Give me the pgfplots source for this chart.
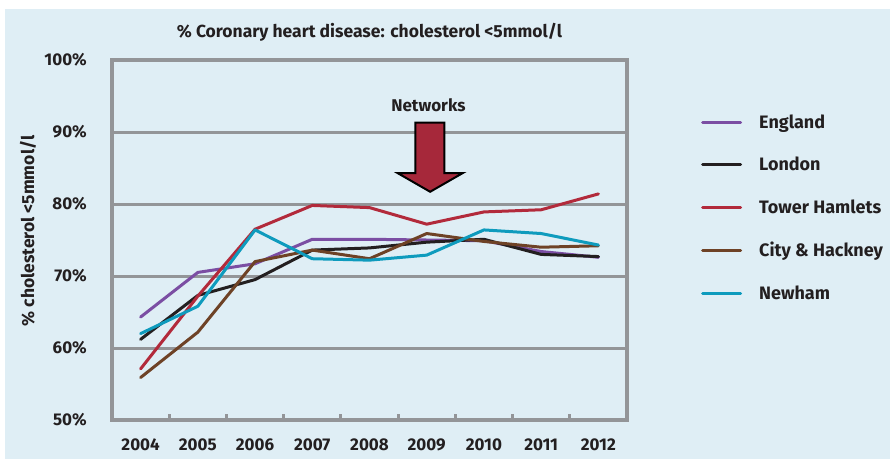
\documentclass[border=0pt]{standalone}
\usepackage{pgfplots}
\pgfplotsset{compat=1.18}
\usepackage{fontspec}
\setmainfont{Fira Sans}
\definecolor{bg}{HTML}{DFEEF5}
\definecolor{gridgray}{HTML}{939598}
\definecolor{txt}{HTML}{231F20}
\definecolor{cEng}{HTML}{7B4EA3}
\definecolor{cLon}{HTML}{231F20}
\definecolor{cTH}{HTML}{B22A3B}
\definecolor{cCH}{HTML}{6E4226}
\definecolor{cNew}{HTML}{0E9BBD}
\definecolor{arrowred}{HTML}{A6283A}
\begin{document}
\begin{tikzpicture}[x=1pt,y=1pt]
\useasboundingbox (-112,-39) rectangle (778,420);
\fill[white] (-112,-39) rectangle (778,420);
\fill[bg] (-107,-39) rectangle (778,411);
\begin{axis}[
  at={(0,0)}, anchor=south west,
  scale only axis, width=515pt, height=360pt,
  xmin=-0.5, xmax=8.5, ymin=50, ymax=100,
  xtick={0,...,8},
  xticklabels={2004,2005,2006,2007,2008,2009,2010,2011,2012},
  ytick={50,60,...,100},
  yticklabel={\pgfmathprintnumber{\tick}\%},
  /pgf/number format/assume math mode=true,
  xtick pos=bottom, ytick pos=left,
  major tick length=0pt,
  extra x ticks={0.5,1.5,...,7.5},
  extra x tick labels={},
  extra x tick style={major tick length=6pt},
  tick style={line width=3pt, gridgray},
  ymajorgrids=true,
  major grid style={line width=3pt, gridgray},
  axis line style={line width=3.5pt, gridgray, line join=miter},
  axis background/.style={fill=none},
  tick label style={font=\fontsize{17}{20}\selectfont\bfseries, text=txt, inner sep=0pt},
  yticklabel style={anchor=east, xshift=-25pt},
  xticklabel style={anchor=north, yshift=-19pt},
  title={\% Coronary heart disease: cholesterol <5mmol/l},
  title style={at={(axis description cs:0.5,1.061)}, anchor=center, font=\fontsize{17.5}{20}\selectfont\bfseries, text=txt},
  ylabel={\% cholesterol <5mmol/l},
  ylabel style={at={(axis description cs:-0.163,0.525)}, anchor=center, font=\fontsize{17.5}{20}\selectfont\bfseries, text=txt},
  legend style={at={(axis description cs:1.1437,0.845)}, anchor=north west, draw=none, fill=none, inner sep=0pt, row sep=26.8pt,
    nodes={inner sep=0pt, text height=12pt, text depth=4pt, font=\fontsize{18}{21}\selectfont\bfseries, text=txt},
    cells={anchor=west},
    /tikz/every odd column/.append style={column sep=17pt}},
  legend image code/.code={\draw[#1, line width=3pt] (0pt,2pt) -- (38pt,2pt);},
  every axis plot/.append style={line width=3pt, line join=round, line cap=round},
  clip=false,
]
\addplot[cEng] coordinates {(0,64.3) (1,70.5) (2,71.7) (3,75.1) (4,75.1) (5,75.0) (6,74.9) (7,73.4) (8,72.6)};
\addlegendentry{England}
\addplot[cLon] coordinates {(0,61.2) (1,67.3) (2,69.5) (3,73.6) (4,73.9) (5,74.7) (6,75.1) (7,73.0) (8,72.7)};
\addlegendentry{London}
\addplot[cTH] coordinates {(0,57.1) (1,67.2) (2,76.5) (3,79.8) (4,79.5) (5,77.2) (6,78.9) (7,79.2) (8,81.4)};
\addlegendentry{Tower Hamlets}
\addplot[cCH] coordinates {(0,55.9) (1,62.2) (2,72.0) (3,73.6) (4,72.4) (5,75.9) (6,74.8) (7,74.0) (8,74.2)};
\addlegendentry{City \& Hackney}
\addplot[cNew] coordinates {(0,62.0) (1,65.8) (2,76.4) (3,72.4) (4,72.2) (5,72.9) (6,76.4) (7,75.9) (8,74.3)};
\addlegendentry{Newham}
\draw[black, line width=2pt, fill=arrowred, line join=miter]
  (axis cs:4.80,91.3) -- (axis cs:5.31,91.3) -- (axis cs:5.31,84.3) -- (axis cs:5.63,84.3)
  -- (axis cs:5.06,81.7) -- (axis cs:4.49,84.3) -- (axis cs:4.80,84.3) -- cycle;
\node[font=\fontsize{17}{20}\selectfont\bfseries, text=txt] at (axis cs:5.03,93.7) {Networks};
\end{axis}
\end{tikzpicture}
\end{document}
